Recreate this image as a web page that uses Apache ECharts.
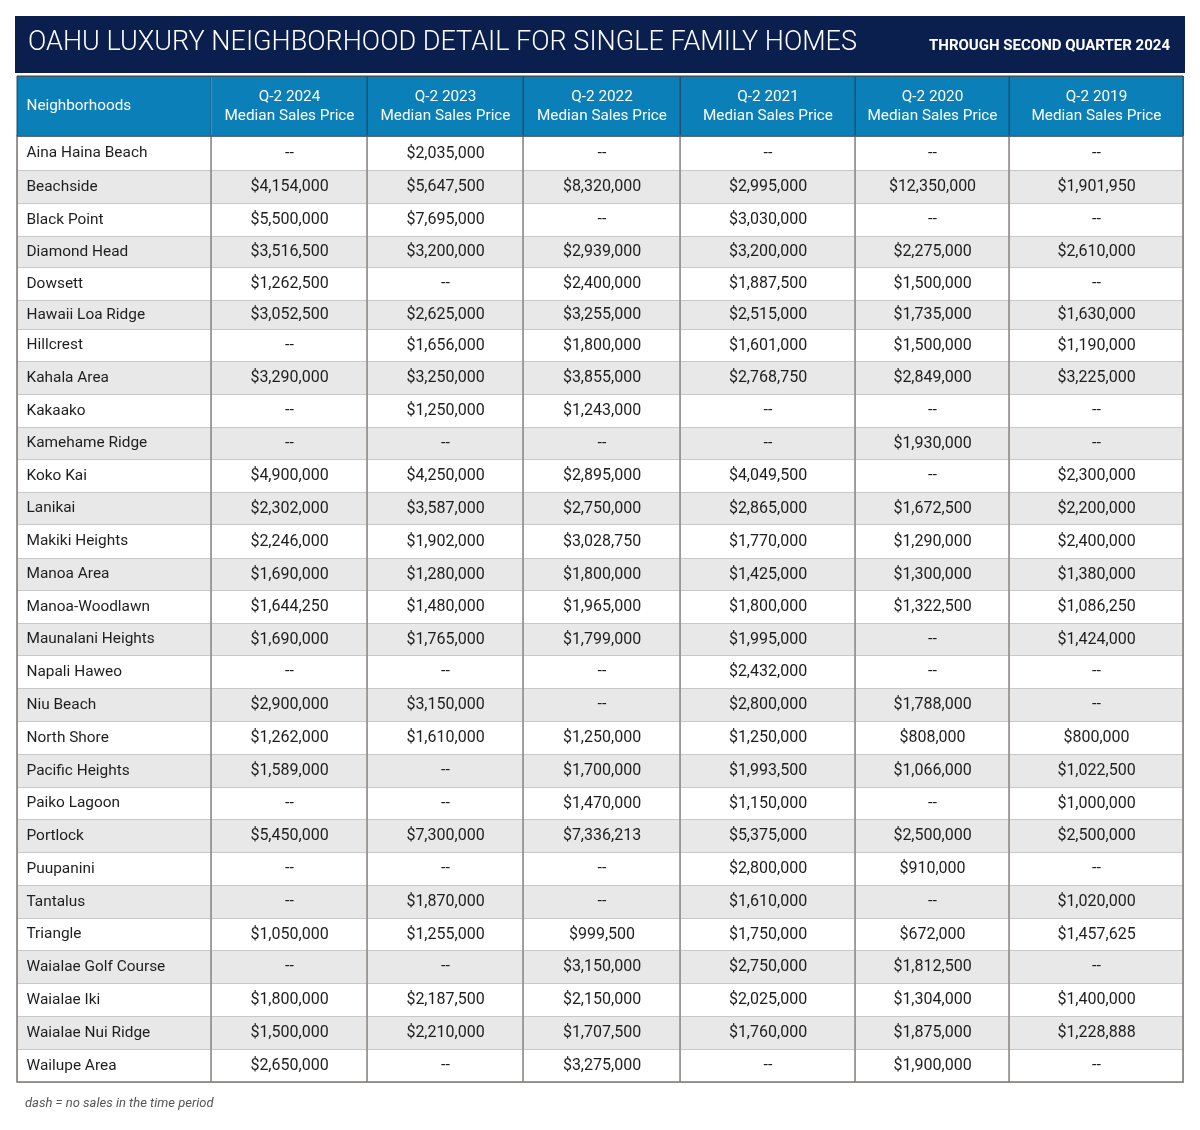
<!DOCTYPE html>
<html><head><meta charset="utf-8">
<script src="https://cdn.jsdelivr.net/npm/echarts@6/dist/echarts.min.js"></script>
<style>html,body{margin:0;padding:0;background:#fff}#c{width:1200px;height:1130px}</style>
</head><body><div id="c"></div>
<script>
// ---- DATA ----
const titleText = 'OAHU LUXURY NEIGHBORHOOD DETAIL FOR SINGLE FAMILY HOMES';
const subtitleText = 'THROUGH SECOND QUARTER 2024';
const cornerText = 'Neighborhoods';
const footnoteText = 'dash = no sales in the time period';
const periods = ['Q-2 2024', 'Q-2 2023', 'Q-2 2022', 'Q-2 2021', 'Q-2 2020', 'Q-2 2019'];
const metricLabel = 'Median Sales Price';
const neighborhoods = [
  'Aina Haina Beach', 'Beachside', 'Black Point', 'Diamond Head', 'Dowsett', 'Hawaii Loa Ridge',
  'Hillcrest', 'Kahala Area', 'Kakaako', 'Kamehame Ridge', 'Koko Kai', 'Lanikai', 'Makiki Heights',
  'Manoa Area', 'Manoa-Woodlawn', 'Maunalani Heights', 'Napali Haweo', 'Niu Beach', 'North Shore',
  'Pacific Heights', 'Paiko Lagoon', 'Portlock', 'Puupanini', 'Tantalus', 'Triangle',
  'Waialae Golf Course', 'Waialae Iki', 'Waialae Nui Ridge', 'Wailupe Area'
];
// null = no sales in the time period
const q2_2024 = [null, 4154000, 5500000, 3516500, 1262500, 3052500, null, 3290000, null, null, 4900000, 2302000, 2246000, 1690000, 1644250, 1690000, null, 2900000, 1262000, 1589000, null, 5450000, null, null, 1050000, null, 1800000, 1500000, 2650000];
const q2_2023 = [2035000, 5647500, 7695000, 3200000, null, 2625000, 1656000, 3250000, 1250000, null, 4250000, 3587000, 1902000, 1280000, 1480000, 1765000, null, 3150000, 1610000, null, null, 7300000, null, 1870000, 1255000, null, 2187500, 2210000, null];
const q2_2022 = [null, 8320000, null, 2939000, 2400000, 3255000, 1800000, 3855000, 1243000, null, 2895000, 2750000, 3028750, 1800000, 1965000, 1799000, null, null, 1250000, 1700000, 1470000, 7336213, null, null, 999500, 3150000, 2150000, 1707500, 3275000];
const q2_2021 = [null, 2995000, 3030000, 3200000, 1887500, 2515000, 1601000, 2768750, null, null, 4049500, 2865000, 1770000, 1425000, 1800000, 1995000, 2432000, 2800000, 1250000, 1993500, 1150000, 5375000, 2800000, 1610000, 1750000, 2750000, 2025000, 1760000, null];
const q2_2020 = [null, 12350000, null, 2275000, 1500000, 1735000, 1500000, 2849000, null, 1930000, null, 1672500, 1290000, 1300000, 1322500, null, null, 1788000, 808000, 1066000, null, 2500000, 910000, null, 672000, 1812500, 1304000, 1875000, 1900000];
const q2_2019 = [null, 1901950, null, 2610000, null, 1630000, 1190000, 3225000, null, null, 2300000, 2200000, 2400000, 1380000, 1086250, 1424000, null, null, 800000, 1022500, 1000000, 2500000, null, 1020000, 1457625, null, 1400000, 1228888, null];
const seriesByPeriod = [q2_2024, q2_2023, q2_2022, q2_2021, q2_2020, q2_2019];

// ---- LAYOUT / STYLE ----
const FONT = 'Roboto, "Noto Sans", sans-serif';
const NAVY = '#0a1f4d', BLUE = '#0a7fb8', ZEBRA = '#e8e8e8';
const T_LEFT = 17, T_TOP = 76, T_BOTTOM = 1082, HEADER_H = 60, NAME_W = 194;
const COL_W = [156, 156, 157, 175, 154, 174];
const ROW_H = [34, 33, 33, 31, 33, 29, 32, 33, 33, 32, 33, 32, 34, 32, 33, 32, 33, 33, 33, 33, 32, 33, 33, 33, 32, 33, 33, 33, 33];
const T_WIDTH = NAME_W + COL_W.reduce((a, b) => a + b, 0);

const fmt = v => v == null ? '--' : '$' + v.toLocaleString('en-US');

const bodyCells = [];
seriesByPeriod.forEach((arr, c) => {
  arr.forEach((v, r) => {
    bodyCells.push({ coord: [c, r], value: fmt(v), itemStyle: { color: r % 2 ? ZEBRA : '#ffffff' } });
  });
});

// vertical dividers derived from the layout widths
const dividerX = [];
let acc = T_LEFT + NAME_W;
dividerX.push(acc);
COL_W.slice(0, -1).forEach(w => { acc += w; dividerX.push(acc); });
const bodyTop = T_TOP + HEADER_H;
const dividers = dividerX.map(x => ({
  type: 'line', silent: true, z: 100,
  shape: { x1: x, y1: bodyTop, x2: x, y2: T_BOTTOM },
  style: { stroke: '#8c8783', lineWidth: 1.5 }
}));
const headerDividers = dividerX.map(x => ({
  type: 'line', silent: true, z: 100,
  shape: { x1: x, y1: T_TOP, x2: x, y2: bodyTop },
  style: { stroke: '#20506e', lineWidth: 1 }
}));

const chart = echarts.init(document.getElementById('c'), null, { renderer: 'canvas' });
chart.setOption({
  backgroundColor: '#ffffff',
  animation: false,
  textStyle: { fontFamily: FONT },
  matrix: {
    left: T_LEFT, top: T_TOP, width: T_WIDTH, height: T_BOTTOM - T_TOP,
    x: {
      data: periods.map((p, i) => ({ value: p + '\n' + metricLabel, size: COL_W[i] })),
      levelSize: HEADER_H,
      label: { color: '#ffffff', fontSize: 15.3, lineHeight: 19, fontFamily: FONT },
      itemStyle: { color: BLUE, borderColor: '#20506e', borderWidth: 1 }
    },
    y: {
      data: neighborhoods.map((n, i) => ({ value: n, size: ROW_H[i], itemStyle: { color: i % 2 ? ZEBRA : '#ffffff' } })),
      levelSize: NAME_W,
      label: { color: '#1e1e1e', fontSize: 15.4, fontFamily: FONT, position: 'insideLeft', distance: 6 },
      itemStyle: { borderColor: '#c8c8c8', borderWidth: 1 }
    },
    corner: {
      data: [{ coord: [-1, -1], value: cornerText }],
      label: { color: '#ffffff', fontSize: 15.3, fontFamily: FONT, position: 'insideLeft', distance: 6 },
      itemStyle: { color: BLUE, borderColor: '#20506e', borderWidth: 1 }
    },
    body: {
      data: bodyCells,
      label: { color: '#1e1e1e', fontSize: 16, fontFamily: FONT },
      itemStyle: { borderColor: '#c8c8c8', borderWidth: 1 }
    }
  },
  graphic: [
    { type: 'rect', silent: true, shape: { x: 15, y: 16, width: 1170, height: 57 }, style: { fill: NAVY } },
    { type: 'text', silent: true, x: 28, y: 43, scaleX: 0.965,
      style: { text: titleText, fill: '#ffffff', font: '300 28px ' + FONT, textVerticalAlign: 'middle' } },
    { type: 'text', silent: true, x: 1170, y: 46,
      style: { text: subtitleText, fill: '#ffffff', font: 'bold 15px ' + FONT, textAlign: 'right', textVerticalAlign: 'middle' } },
    { type: 'text', silent: true, x: 25, y: 1104,
      style: { text: footnoteText, fill: '#555555', font: 'italic 13px ' + FONT, textVerticalAlign: 'middle' } },
    ...dividers,
    ...headerDividers,
    { type: 'rect', silent: true, z: 101, shape: { x: T_LEFT, y: bodyTop, width: T_WIDTH, height: T_BOTTOM - bodyTop },
      style: { fill: 'none', stroke: '#7d7874', lineWidth: 1.5 } },
    { type: 'rect', silent: true, z: 101, shape: { x: T_LEFT, y: T_TOP, width: T_WIDTH, height: HEADER_H },
      style: { fill: 'none', stroke: '#20506e', lineWidth: 1 } }
  ]
});
</script></body></html>
